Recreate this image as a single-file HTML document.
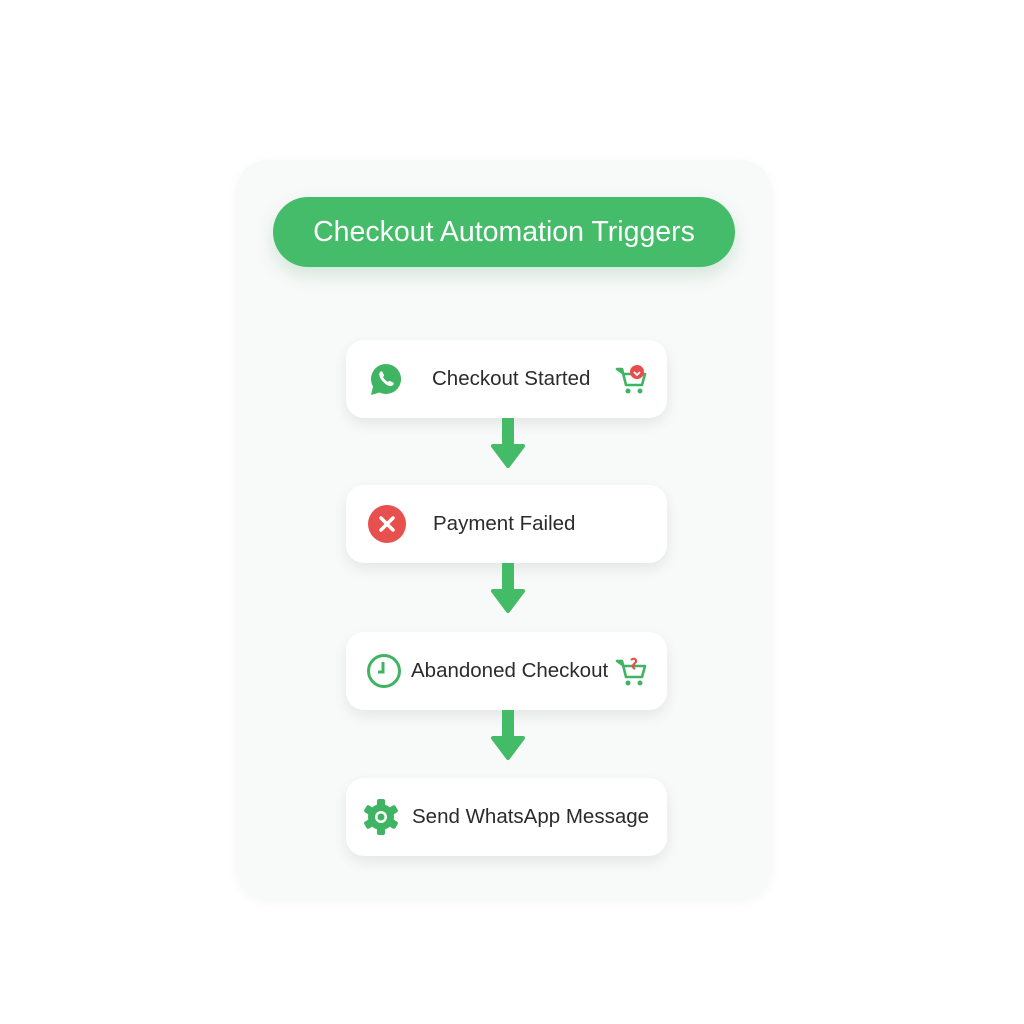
<!DOCTYPE html>
<html><head><style>
body{margin:0;width:1024px;height:1024px;background:#fff;position:relative;font-family:"Liberation Sans",sans-serif;overflow:hidden}
.card{position:absolute;left:236px;top:160px;width:536px;height:740px;background:#f8f9f9;border-radius:32px;box-shadow:0 2px 10px rgba(0,0,0,0.04)}
.pill{position:absolute;left:273px;top:197px;width:462px;height:70px;border-radius:35px;background:#45bc69;color:#fff;font-size:28.5px;line-height:70px;text-align:center;box-shadow:0 8px 18px rgba(60,160,90,0.2)}
.node{position:absolute;left:346px;width:321px;height:78px;background:#fff;border-radius:18px;box-shadow:0 6px 14px rgba(0,0,0,0.08);font-size:20.5px;color:#2b2b2b;line-height:78px}
.node span{position:absolute}
.node svg{position:absolute}
.arr{position:absolute;left:490px;width:36px}
</style></head><body>
<div class="card"></div>
<div class="pill">Checkout Automation Triggers</div>

<div class="node" style="top:340px">
<svg style="left:22px;top:22px" width="36" height="36" viewBox="0 0 36 36"><path d="M18 2a15 15 0 0 0-13 22.5L3 33l8.5-2.5A15 15 0 1 0 18 2z" fill="#3fb463"/><path d="M12 10c1-1 2-1 2.5 0l1.5 3c.3.8-.5 1.5-1 2 1 2 3 4 5 5 .5-.5 1.2-1.3 2-1l3 1.5c1 .5 1 1.5 0 2.5-2 2-5 1-8-1.5S9.5 14 12 10z" fill="#fff"/></svg>
<span style="left:86px">Checkout Started</span>
<svg style="left:268px;top:22px" width="36" height="36" viewBox="0 0 36 36"><path d="M3 7h5l4 16h16l3-11H10z" fill="none" stroke="#3fb463" stroke-width="2.6" stroke-linejoin="round"/><circle cx="14" cy="29" r="2.5" fill="#3fb463"/><circle cx="26" cy="29" r="2.5" fill="#3fb463"/><circle cx="23" cy="10" r="7" fill="#e84c4c"/><path d="M20 10l3 3 3-3" fill="none" stroke="#fff" stroke-width="1.8"/></svg>
</div>

<div class="node" style="top:485px">
<svg style="left:22px;top:20px" width="38" height="38" viewBox="0 0 38 38"><circle cx="19" cy="19" r="19" fill="#e8504d"/><path d="M13 13l12 12M25 13L13 25" stroke="#fff" stroke-width="3.5" stroke-linecap="round"/></svg>
<span style="left:87px">Payment Failed</span>
</div>

<div class="node" style="top:632px">
<svg style="left:20px;top:21px" width="36" height="36" viewBox="0 0 36 36"><circle cx="18" cy="18" r="15.5" fill="none" stroke="#3fb463" stroke-width="3"/><path d="M17 9v10h-5" fill="none" stroke="#3fb463" stroke-width="3"/></svg>
<span style="left:65px">Abandoned Checkout</span>
<svg style="left:268px;top:22px" width="36" height="36" viewBox="0 0 36 36"><path d="M3 7h5l4 16h16l3-11H10z" fill="none" stroke="#3fb463" stroke-width="2.6" stroke-linejoin="round"/><circle cx="14" cy="29" r="2.5" fill="#3fb463"/><circle cx="26" cy="29" r="2.5" fill="#3fb463"/><path d="M17 6c3-3 7 0 4 3s-3 4 0 6" fill="none" stroke="#e84c4c" stroke-width="2.2"/></svg>
</div>

<div class="node" style="top:778px">
<svg style="left:16px;top:20px" width="38" height="38" viewBox="0 0 38 38"><g fill="#3fb463"><circle cx="19" cy="19" r="13"/><g id="t"><rect x="15" y="1" width="8" height="8" rx="2"/><rect x="15" y="29" width="8" height="8" rx="2"/></g><use href="#t" transform="rotate(60 19 19)"/><use href="#t" transform="rotate(120 19 19)"/></g><circle cx="19" cy="19" r="6" fill="#fff"/><circle cx="19" cy="19" r="3.5" fill="#3fb463"/></svg>
<span style="left:66px">Send WhatsApp Message</span>
</div>

<svg class="arr" style="top:418px" width="36" height="52" viewBox="0 0 36 52"><rect x="12" y="0" width="12" height="30" fill="#43bb67"/><path d="M3 28h30L18 48z" fill="#43bb67" stroke="#43bb67" stroke-width="4" stroke-linejoin="round"/></svg>
<svg class="arr" style="top:563px" width="36" height="52" viewBox="0 0 36 52"><rect x="12" y="0" width="12" height="30" fill="#43bb67"/><path d="M3 28h30L18 48z" fill="#43bb67" stroke="#43bb67" stroke-width="4" stroke-linejoin="round"/></svg>
<svg class="arr" style="top:710px" width="36" height="52" viewBox="0 0 36 52"><rect x="12" y="0" width="12" height="30" fill="#43bb67"/><path d="M3 28h30L18 48z" fill="#43bb67" stroke="#43bb67" stroke-width="4" stroke-linejoin="round"/></svg>
</body></html>
